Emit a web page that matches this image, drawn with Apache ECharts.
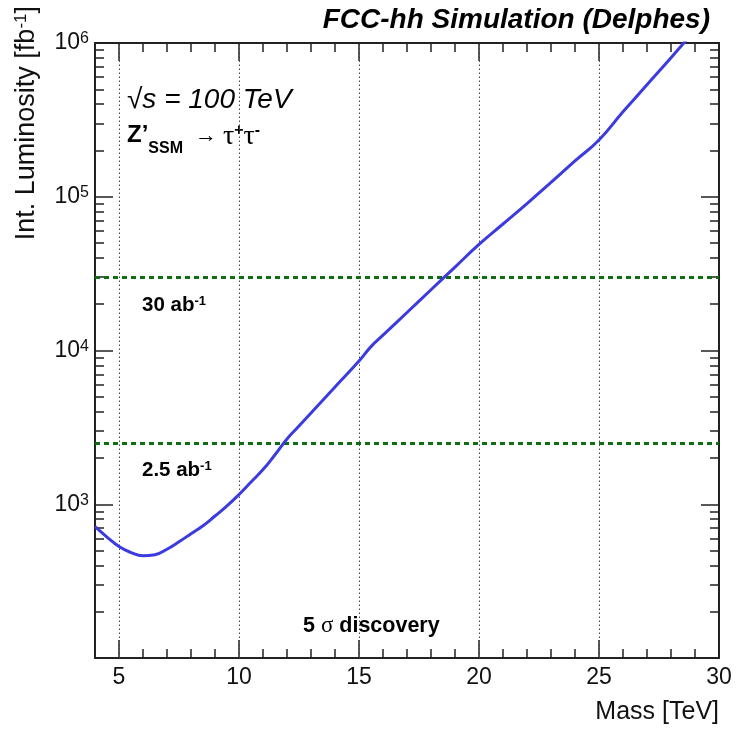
<!DOCTYPE html>
<html>
<head>
<meta charset="utf-8">
<title>FCC-hh Z'SSM to tau tau discovery reach</title>
<script src="https://cdn.jsdelivr.net/npm/echarts@6/dist/echarts.min.js"></script>
<style>
  html, body { margin: 0; padding: 0; background: #ffffff; }
  #chart { width: 739px; height: 730px; }
</style>
</head>
<body>
<div id="chart"></div>
<script>
// Z'(SSM) -> tau tau, 5 sigma discovery luminosity vs. resonance mass
const massTeV = [4, 4.5, 5, 5.5, 6, 6.5, 7, 7.5, 8, 8.5, 9, 9.5, 10, 10.5, 11, 11.5, 12, 12.5, 13,
                 14, 15, 15.5, 16, 17, 18, 19, 20, 21, 22, 23, 24, 25, 26, 27, 28, 29];
const lumiFb = [714, 612, 531, 485, 463, 470, 510, 570, 643, 725, 839, 975, 1158, 1395, 1680, 2100, 2660, 3230, 3925,
                5795, 8550, 10600, 12580, 17660, 24850, 34900, 49000, 66500, 90300, 123800, 171000, 234000, 357000, 535000, 802000, 1216000];

// Reference luminosity scenarios (fb^-1)
const refLumiFb = [30000, 2500];
const refLumiText = ['30 ab', '2.5 ab'];

// Axis ticks
const xMajorTicks = [5, 10, 15, 20, 25];
const xTickLabels = [5, 10, 15, 20, 25, 30];
const xMinorTicks = [5, 6, 7, 8, 9, 11, 12, 13, 14, 16, 17, 18, 19, 21, 22, 23, 24, 26, 27, 28, 29];
const yMajorTicks = [100, 1000, 10000, 100000, 1000000];
const yTickLabels = [1000, 10000, 100000, 1000000];
const yMinorTicks = [];
for (let d = 100; d < 1000000; d *= 10) {
  for (let k = 2; k <= 9; k++) yMinorTicks.push(k * d);
}

const X_MIN = 4, X_MAX = 30, Y_MIN = 100, Y_MAX = 1000000;
const SANS = '"Liberation Sans", Arial, Helvetica, sans-serif';
const SERIF = '"Liberation Serif", "Times New Roman", serif';
const INK = '#111111';
const FRAME = { color: '#222222', width: 2 };
const TICK = { color: '#222222', width: 1.5 };

function xAxisDef(position, ticks, len, showLine, labels) {
  return {
    type: 'value', position: position, min: X_MIN, max: X_MAX,
    axisLine: { show: showLine, lineStyle: FRAME },
    axisTick: { show: true, inside: true, length: len, customValues: ticks, lineStyle: TICK },
    axisLabel: labels ? {
      show: true, customValues: labels, margin: 8,
      fontSize: 23, fontFamily: SANS, color: INK
    } : { show: false },
    splitLine: { show: false }
  };
}

function yAxisDef(position, ticks, len, showLine, labels) {
  return {
    type: 'log', logBase: 10, position: position, min: Y_MIN, max: Y_MAX,
    axisLine: { show: showLine, lineStyle: FRAME },
    axisTick: { show: true, inside: true, length: len, customValues: ticks, lineStyle: TICK },
    axisLabel: labels ? {
      show: true, customValues: labels, margin: 6,
      formatter: function (v) {
        return '{b|10}{s|' + Math.round(Math.log10(v)) + '}';
      },
      rich: {
        b: { fontSize: 23, fontFamily: SANS, color: INK, lineHeight: 24 },
        s: { fontSize: 16, fontFamily: SANS, color: INK, verticalAlign: 'top', lineHeight: 15 }
      }
    } : { show: false },
    splitLine: { show: false }
  };
}

const curve = massTeV.map((m, i) => [m, lumiFb[i]]);

const gridLines = xMajorTicks.map(v => ({
  xAxis: v,
  lineStyle: { color: '#444444', width: 1, type: [1.5, 2.5] }
}));
const scenarioLines = refLumiFb.map(v => ({
  yAxis: v,
  lineStyle: { color: '#0f6e12', width: 3, type: [5, 4] }
}));

const chart = echarts.init(document.getElementById('chart'), null, { renderer: 'canvas' });

chart.setOption({
  animation: false,
  backgroundColor: '#ffffff',
  grid: { left: 95, right: 20, top: 43, bottom: 72, containLabel: false },
  xAxis: [
    xAxisDef('bottom', xMajorTicks, 18, true, xTickLabels),
    xAxisDef('bottom', xMinorTicks, 9, false, null),
    xAxisDef('top', xMajorTicks, 18, true, null),
    xAxisDef('top', xMinorTicks, 9, false, null)
  ],
  yAxis: [
    yAxisDef('left', yMajorTicks, 18, true, yTickLabels),
    yAxisDef('left', yMinorTicks, 9, false, null),
    yAxisDef('right', yMajorTicks, 18, true, null),
    yAxisDef('right', yMinorTicks, 9, false, null)
  ],
  series: [{
    type: 'line',
    xAxisIndex: 0,
    yAxisIndex: 0,
    data: curve,
    smooth: 0.5,
    showSymbol: false,
    clip: true,
    lineStyle: { color: '#3b3be0', width: 3 },
    z: 5,
    markLine: {
      silent: true,
      symbol: 'none',
      label: { show: false },
      z: 3,
      data: gridLines.concat(scenarioLines)
    }
  }],
  graphic: [
    {
      type: 'text', x: 710, y: 20,
      style: {
        text: 'FCC-hh Simulation (Delphes)',
        fontSize: 28, fontWeight: 'bold', fontStyle: 'italic', fontFamily: SANS,
        fill: '#000000', align: 'right', verticalAlign: 'middle'
      }
    },
    {
      type: 'text', x: 27, y: 6, rotation: Math.PI / 2,
      style: {
        text: '{t|Int. Luminosity [fb}{s|-1}{t|]}',
        align: 'right', verticalAlign: 'middle',
        rich: {
          t: { fontSize: 27, fontFamily: SANS, fill: INK, lineHeight: 28 },
          s: { fontSize: 17, fontFamily: SANS, fill: INK, verticalAlign: 'top', lineHeight: 16 }
        }
      }
    },
    {
      type: 'text', x: 719, y: 712,
      style: {
        text: 'Mass [TeV]', fontSize: 25, fontFamily: SANS, fill: INK,
        align: 'right', verticalAlign: 'middle'
      }
    },
    {
      type: 'text', x: 127, y: 100,
      style: {
        text: '\u221As = 100 TeV', fontSize: 28, fontStyle: 'italic', fontFamily: SANS, fill: '#000000',
        align: 'left', verticalAlign: 'middle'
      }
    },
    {
      type: 'text', x: 127, y: 123,
      style: {
        text: "{z|Z\u2019}{sub|SSM}{a|\u2192}{tau|\u03C4}{sup|+}{tau|\u03C4}{sup|-}",
        align: 'left', verticalAlign: 'top',
        rich: {
          z: { fontSize: 24, fontWeight: 'bold', fontFamily: SANS, fill: '#000000', verticalAlign: 'top', lineHeight: 25 },
          sub: { fontSize: 16, fontWeight: 'bold', fontFamily: SANS, fill: '#000000', verticalAlign: 'top', lineHeight: 16, padding: [18, 0, 0, 0] },
          a: { fontSize: 22, fontFamily: SANS, fill: '#000000', verticalAlign: 'top', lineHeight: 22, padding: [2, 6, 0, 12] },
          tau: { fontSize: 28, fontFamily: SERIF, fill: '#000000', verticalAlign: 'top', lineHeight: 26, padding: [0, 0, 0, 0] },
          sup: { fontSize: 16, fontWeight: 'bold', fontFamily: SANS, fill: '#000000', verticalAlign: 'top', lineHeight: 15 }
        }
      }
    },
    {
      type: 'text', x: 142, y: 305,
      style: {
        text: '{t|' + refLumiText[0] + '}{s|-1}',
        align: 'left', verticalAlign: 'middle',
        rich: {
          t: { fontSize: 20.5, fontWeight: 'bold', fontFamily: SANS, fill: '#000000', lineHeight: 21 },
          s: { fontSize: 13, fontWeight: 'bold', fontFamily: SANS, fill: '#000000', verticalAlign: 'top', lineHeight: 12 }
        }
      }
    },
    {
      type: 'text', x: 142, y: 470,
      style: {
        text: '{t|' + refLumiText[1] + '}{s|-1}',
        align: 'left', verticalAlign: 'middle',
        rich: {
          t: { fontSize: 20.5, fontWeight: 'bold', fontFamily: SANS, fill: '#000000', lineHeight: 21 },
          s: { fontSize: 13, fontWeight: 'bold', fontFamily: SANS, fill: '#000000', verticalAlign: 'top', lineHeight: 12 }
        }
      }
    },
    {
      type: 'text', x: 303, y: 626,
      style: {
        text: '{t|5 }{g|\u03C3}{t| discovery}',
        align: 'left', verticalAlign: 'middle',
        rich: {
          t: { fontSize: 21.5, fontWeight: 'bold', fontFamily: SANS, fill: '#000000', lineHeight: 22 },
          g: { fontSize: 23, fontFamily: SERIF, fill: '#000000', lineHeight: 22 }
        }
      }
    }
  ]
});
</script>
</body>
</html>
